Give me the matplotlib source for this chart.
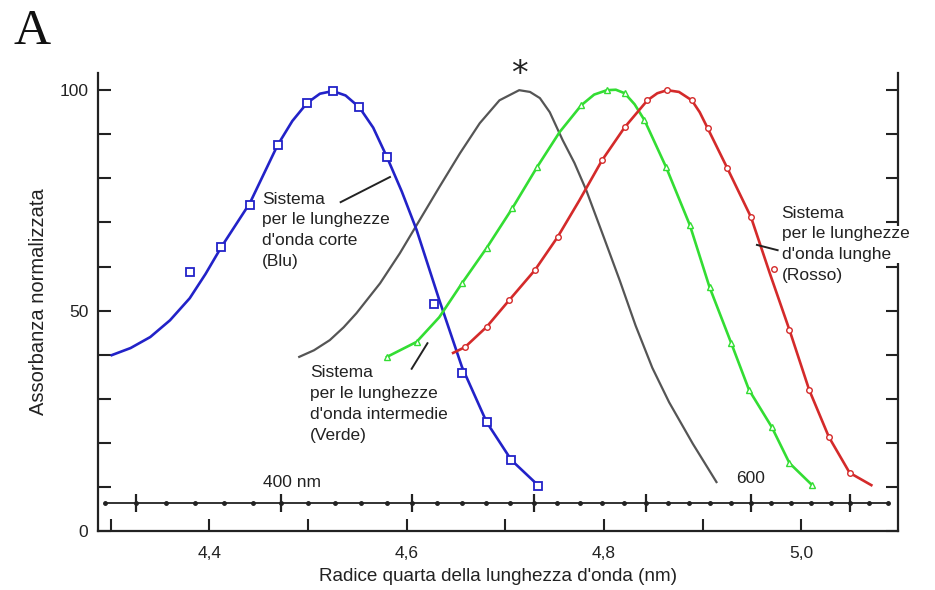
import numpy as np
import matplotlib
matplotlib.use("Agg")
import matplotlib.pyplot as plt
from matplotlib.patches import Rectangle
from matplotlib.transforms import blended_transform_factory

# ---------------------------------------------------------------
# values (x = fourth root of wavelength)
# ---------------------------------------------------------------
blue_x = [4.301, 4.320, 4.340, 4.360, 4.380, 4.396, 4.412, 4.441, 4.469, 4.484,
          4.499, 4.512, 4.525, 4.538, 4.552, 4.566, 4.580, 4.595, 4.610, 4.633,
          4.656, 4.681, 4.706, 4.733]
blue_y = [39.9, 41.5, 44.0, 47.8, 52.8, 58.3, 64.4, 74.4, 87.5, 93.0,
          97.1, 99.2, 99.8, 98.8, 96.1, 91.5, 84.8, 77.0, 68.3, 52.4,
          37.2, 24.7, 16.1, 10.4]
blue_mx = [4.380, 4.412, 4.441, 4.469, 4.499, 4.525, 4.552, 4.580, 4.628,
           4.656, 4.681, 4.706, 4.733]
blue_my = [58.7, 64.4, 73.9, 87.5, 97.1, 99.8, 96.1, 84.8, 51.5,
           35.8, 24.7, 16.1, 10.2]

gray_x = [4.491, 4.506, 4.522, 4.536, 4.549, 4.573, 4.593, 4.613, 4.633, 4.654,
          4.674, 4.694, 4.714, 4.725, 4.735, 4.745, 4.758, 4.770, 4.782, 4.800,
          4.816, 4.832, 4.849, 4.866, 4.890, 4.914]
gray_y = [39.5, 41.0, 43.3, 46.2, 49.4, 56.2, 63.0, 70.5, 78.0, 85.7,
          92.5, 97.7, 100.0, 99.6, 98.2, 95.0, 88.7, 83.5, 77.3, 66.5,
          56.8, 46.6, 37.0, 29.2, 19.8, 11.1]

green_x = [4.580, 4.610, 4.633, 4.656, 4.681, 4.707, 4.732, 4.755, 4.777, 4.790,
           4.803, 4.812, 4.821, 4.831, 4.841, 4.863, 4.887, 4.907, 4.929, 4.947,
           4.970, 4.988, 5.011]
green_y = [39.5, 42.9, 48.5, 56.2, 64.2, 73.2, 82.5, 90.5, 96.6, 99.0,
           100.0, 100.1, 99.3, 96.8, 93.2, 82.5, 69.4, 55.3, 42.6, 32.0,
           23.6, 15.4, 10.4]
green_mx = [4.580, 4.610, 4.656, 4.681, 4.707, 4.732, 4.777, 4.803, 4.821, 4.841,
            4.863, 4.887, 4.907, 4.929, 4.947, 4.970, 4.988, 5.011]
green_my = [39.5, 42.9, 56.2, 64.2, 73.2, 82.5, 96.6, 100.0, 99.3, 93.2,
            82.5, 69.4, 55.3, 42.6, 32.0, 23.6, 15.4, 10.4]

red_x = [4.647, 4.659, 4.681, 4.704, 4.730, 4.753, 4.775, 4.798, 4.821, 4.844,
         4.854, 4.864, 4.876, 4.889, 4.897, 4.905, 4.925, 4.949, 4.968, 4.988,
         5.008, 5.028, 5.049, 5.071]
red_y = [40.4, 41.7, 46.3, 52.4, 59.2, 66.7, 75.0, 84.1, 91.6, 97.7,
         99.3, 100.0, 99.6, 97.7, 95.0, 91.4, 82.3, 71.2, 58.5, 45.6,
         32.0, 21.3, 13.2, 10.4]
red_mx = [4.659, 4.681, 4.704, 4.730, 4.753, 4.798, 4.821, 4.844, 4.864, 4.889,
          4.905, 4.925, 4.949, 4.972, 4.988, 5.008, 5.028, 5.049]
red_my = [41.7, 46.3, 52.4, 59.2, 66.7, 84.1, 91.6, 97.7, 100.0, 97.7,
          91.4, 82.3, 71.2, 59.5, 45.6, 32.0, 21.3, 13.2]

# wavelength scale drawn inside the plot (nm)
wl_major = [350, 400, 450, 500, 550, 600, 650]
wl_minor = list(range(340, 680, 10))

x_ticks = [4.3, 4.4, 4.5, 4.6, 4.7, 4.8, 4.9, 5.0]
x_labels = ["", "4,4", "", "4,6", "", "4,8", "", "5,0"]
y_ticks = list(range(0, 101, 10))
y_labels = ["0", "", "", "", "", "50", "", "", "", "", "100"]

BLUE = "#2222c8"
GRAY = "#555555"
GREEN = "#33dd33"
RED = "#d42a2a"
INK = "#222222"

plt.rcParams["font.family"] = ["Liberation Sans", "DejaVu Sans"]

fig = plt.figure(figsize=(9.35, 5.9), dpi=100)
ax = fig.add_axes([0.1048, 0.1, 0.8556, 0.7763])
ax.set_xlim(4.287, 5.098)
ax.set_ylim(0, 103.9)

# curves
ax.plot(gray_x, gray_y, color=GRAY, lw=1.6)
ax.plot(blue_x, blue_y, color=BLUE, lw=1.9)
ax.plot(green_x, green_y, color=GREEN, lw=1.9)
ax.plot(red_x, red_y, color=RED, lw=1.9)

# measured points
ax.plot(blue_mx, blue_my, ls="none", marker="s", ms=5.8, mfc="white",
        mec=BLUE, mew=1.3)
ax.plot(green_mx, green_my, ls="none", marker="^", ms=4, mfc="white",
        mec=GREEN, mew=1.0)
ax.plot(red_mx, red_my, ls="none", marker="o", ms=4, mfc="white",
        mec=RED, mew=1.0)

# wavelength scale
wl_y = 6.35
ax.plot([wl_minor[0] ** 0.25, wl_minor[-1] ** 0.25], [wl_y, wl_y],
        color=INK, lw=1.3)
ax.plot([w ** 0.25 for w in wl_minor], [wl_y] * len(wl_minor), ls="none",
        marker="o", ms=2.5, color=INK)
ax.plot([w ** 0.25 for w in wl_major], [wl_y] * len(wl_major), ls="none",
        marker="|", ms=13, mew=1.6, color=INK)
ax.text(4.484, 11.1, "400 nm", ha="center", va="center",
        fontsize=12.5, color=INK)
ax.text(4.949, 12.0, "600", ha="center", va="center",
        fontsize=12.5, color=INK)

# star over the gray peak
ax.text(4.714, 103.6, "*", ha="center", va="center", fontsize=24,
        family="DejaVu Sans", color=INK, clip_on=False)

# labels with leader lines
lab_kw = dict(fontsize=12.5, color=INK, va="top", ha="left", linespacing=1.48)
ax.text(4.453, 77.0, "Sistema\nper le lunghezze\nd'onda corte\n(Blu)", **lab_kw)
ax.plot([4.533, 4.583], [74.6, 80.3], color=INK, lw=1.4)

ax.text(4.502, 37.6, "Sistema\nper le lunghezze\nd'onda intermedie\n(Verde)", **lab_kw)
ax.plot([4.605, 4.621], [36.8, 42.6], color=INK, lw=1.4)

ax.text(4.980, 73.8, "Sistema\nper le lunghezze\nd'onda lunghe\n(Rosso)",
        zorder=6, clip_on=False, **lab_kw)
ax.plot([4.955, 4.976], [64.9, 63.7], color=INK, lw=1.4)

# break in the right spine behind the red label
bt = blended_transform_factory(ax.transAxes, ax.transData)
ax.add_patch(Rectangle((0.985, 60.7), 0.03, 8.6, transform=bt,
                       facecolor="white", edgecolor="none", zorder=5,
                       clip_on=False))

# axes styling
ax.spines["top"].set_visible(False)
for s in ["left", "right", "bottom"]:
    ax.spines[s].set_linewidth(1.6)
    ax.spines[s].set_color(INK)
ax.set_xticks(x_ticks)
ax.set_xticklabels(x_labels)
ax.set_yticks(y_ticks)
ax.set_yticklabels(y_labels)
ax.tick_params(axis="both", direction="in", length=9, width=1.5,
               colors=INK, labelsize=12.5)
ax.tick_params(axis="y", right=True, pad=7)
ax.tick_params(axis="x", pad=11)

ax.set_xlabel("Radice quarta della lunghezza d'onda (nm)", fontsize=13.6,
              color=INK, labelpad=5)
ax.set_ylabel("Assorbanza normalizzata", fontsize=14.5, color=INK, labelpad=8)

fig.text(0.014, 0.985, "A", fontsize=37, family="Liberation Serif",
         ha="left", va="top", color="#111111")

fig.savefig("out.png", dpi=100)
